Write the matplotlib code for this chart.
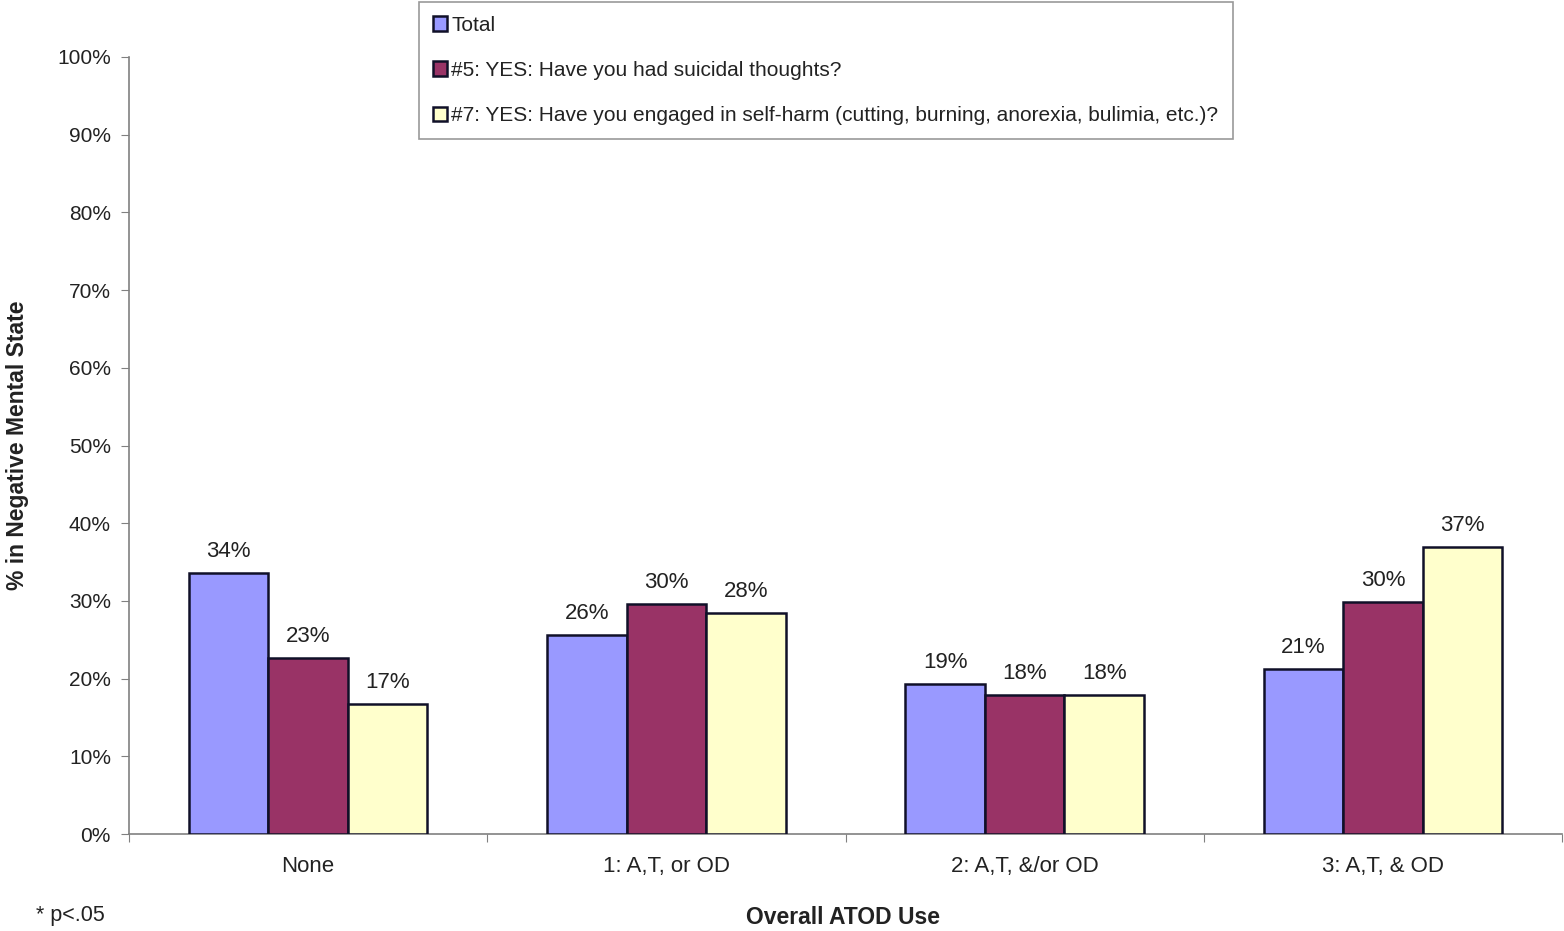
import numpy as np
import matplotlib.pyplot as plt
from matplotlib.ticker import FixedLocator, PercentFormatter

plt.rcParams['font.family'] = ['Liberation Sans', 'DejaVu Sans']
plt.rcParams['font.size'] = 15

# Data (percent in negative mental state)
categories = ['None', '1: A,T, or OD', '2: A,T, &/or OD', '3: A,T, & OD']
total = [33.6, 25.6, 19.3, 21.2]
suicidal = [22.6, 29.6, 17.9, 29.9]
selfharm = [16.7, 28.4, 17.9, 36.9]
series_labels = ['Total',
                 '#5: YES: Have you had suicidal thoughts?',
                 '#7: YES: Have you engaged in self-harm (cutting, burning, anorexia, bulimia, etc.)?']
colors = ['#9999FF', '#993366', '#FFFFCC']

fig = plt.figure(figsize=(15.64, 9.31), dpi=100)
ax = fig.add_axes([129/1564, 1 - 834/931, 1433/1564, 777/931])

x = np.arange(len(categories))
w = 0.222
handles = []
for i, (vals, lab, col) in enumerate(zip([total, suicidal, selfharm], series_labels, colors)):
    bars = ax.bar(x + (i - 1) * w, vals, w, color=col, edgecolor='#101028',
                  linewidth=1.8, label=lab, zorder=3)
    ax.bar_label(bars, labels=[f'{round(v)}%' for v in vals], padding=8, fontsize=16,
                 color='#222222')
    handles.append(bars)

ax.set_xlim(-0.5, 3.5)
ax.set_ylim(0, 100)
ax.yaxis.set_major_locator(FixedLocator(np.arange(0, 101, 10)))
ax.yaxis.set_major_formatter(PercentFormatter(decimals=0))
ax.tick_params(axis='y', direction='out', length=6, color='#808080', labelsize=15,
               labelcolor='#222222', pad=7)

# category boundaries as major ticks, names as minor labels
ax.xaxis.set_major_locator(FixedLocator([-0.5, 0.5, 1.5, 2.5, 3.5]))
ax.xaxis.set_major_formatter(plt.NullFormatter())
ax.xaxis.set_minor_locator(FixedLocator(x))
ax.set_xticklabels(categories, minor=True)
ax.tick_params(axis='x', which='major', direction='out', length=6, color='#808080')
ax.tick_params(axis='x', which='minor', length=0, pad=16, labelsize=16, labelcolor='#222222')

for s in ['top', 'right']:
    ax.spines[s].set_visible(False)
ax.spines['left'].set_color('#808080')
ax.spines['bottom'].set_color('#808080')
ax.spines['left'].set_linewidth(1.2)
ax.spines['bottom'].set_linewidth(1.2)

fig.text(18/1564, 1 - 445/931, '% in Negative Mental State', rotation=90, ha='center',
         va='center', fontsize=16.5, fontweight='bold', color='#222222')
fig.text(843/1564, 1 - 918/931, 'Overall ATOD Use', ha='center', va='center',
         fontsize=16.5, fontweight='bold', color='#222222')
fig.text(36/1564, 1 - 915/931, '* p<.05', ha='left', va='center', fontsize=15.5,
         color='#222222')

leg = fig.legend(handles=handles, loc='upper left',
                 bbox_to_anchor=(419/1564, 1 - 2/931, 814/1564, 0), mode='expand',
                 borderaxespad=0, fontsize=15, handlelength=0.7, handleheight=0.7,
                 handletextpad=0.2, labelspacing=1.27, borderpad=0.65, fancybox=False,
                 framealpha=1, edgecolor='#999999')
leg.get_frame().set_linewidth(1.2)
for t in leg.get_texts():
    t.set_color('#222222')

fig.savefig('out.png', dpi=100)
